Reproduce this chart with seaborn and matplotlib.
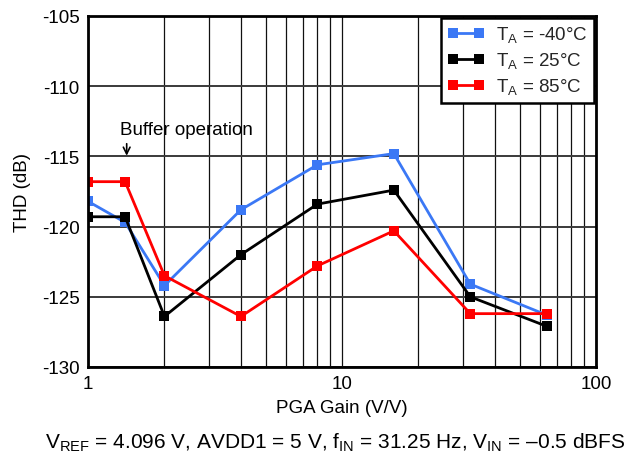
"""
THD vs PGA gain at three temperatures — seaborn recreation.
"""

import numpy as np
import pandas as pd
import matplotlib
matplotlib.use("Agg")
import matplotlib.pyplot as plt
from matplotlib.ticker import LogLocator, FixedLocator, FixedFormatter, NullFormatter
import seaborn as sns


# ─────────────────────────────────────────────
# Data
# ─────────────────────────────────────────────
pga_gain  = [1, 1.4, 2, 4, 8, 16, 32, 64]
thd_m40   = [-118.2, -119.7, -124.2, -118.8, -115.6, -114.8, -124.1, -126.3]
thd_25    = [-119.3, -119.3, -126.4, -122.0, -118.4, -117.4, -125.0, -127.1]
thd_85    = [-116.8, -116.8, -123.5, -126.4, -122.8, -120.3, -126.2, -126.2]

series_labels = [r"T$_\mathregular{A}$ = -40°C",
                 r"T$_\mathregular{A}$ = 25°C",
                 r"T$_\mathregular{A}$ = 85°C"]
series_colors = ["#3B78F5", "#000000", "#FF0000"]

y_ticks = [-130, -125, -120, -115, -110, -105]
x_ticks = [1, 10, 100]


# ─────────────────────────────────────────────
# Long table for seaborn
# ─────────────────────────────────────────────
frames = []
for label, vals in zip(series_labels, [thd_m40, thd_25, thd_85]):
    frames.append(pd.DataFrame({"gain": pga_gain, "thd": vals, "temp": label}))
df = pd.concat(frames, ignore_index=True)


# ─────────────────────────────────────────────
# Plot
# ─────────────────────────────────────────────
sns.set_theme(style="white")
plt.rcParams["font.family"] = ["Liberation Sans", "DejaVu Sans"]
plt.rcParams["mathtext.fontset"] = "custom"
plt.rcParams["mathtext.rm"] = "Liberation Sans"

FS = 13.5

fig = plt.figure(figsize=(6.29, 4.60), dpi=100)
ax = fig.add_axes([88 / 629, 1 - 368 / 460, (596 - 88) / 629, (368 - 17) / 460])

sns.lineplot(
    data=df, x="gain", y="thd", hue="temp",
    palette=dict(zip(series_labels, series_colors)),
    marker="s", markersize=7, markeredgewidth=0,
    linewidth=2, sort=False, ax=ax,
)

ax.set_xscale("log")
ax.set_xlim(1, 100)
ax.set_ylim(-130, -105)

ax.xaxis.set_major_locator(FixedLocator(x_ticks))
ax.xaxis.set_major_formatter(FixedFormatter([str(t) for t in x_ticks]))
ax.xaxis.set_minor_locator(LogLocator(base=10, subs=np.arange(2, 10)))
ax.xaxis.set_minor_formatter(NullFormatter())
ax.set_yticks(y_ticks)
ax.set_yticklabels([str(t) for t in y_ticks])

ax.grid(True, which="major", axis="y", color="#3a3a3a", linewidth=1.4)
ax.grid(True, which="both", axis="x", color="#111111", linewidth=0.9)
ax.set_axisbelow(True)

for s in ax.spines.values():
    s.set_color("black")
    s.set_linewidth(2)

ax.tick_params(axis="both", which="both", length=0, labelsize=FS, colors="black", pad=6)

ax.set_xlabel("PGA Gain (V/V)", fontsize=FS, color="black", labelpad=5)
ax.set_ylabel("THD (dB)", fontsize=FS, color="black", labelpad=8)

# Buffer operation note
ax.text(1.335, -113.05, "Buffer operation", fontsize=FS, color="black",
        ha="left", va="center")
ax.annotate("", xy=(1.42, -115.15), xytext=(1.42, -113.9),
            arrowprops=dict(arrowstyle="->", color="black", lw=1.2))

leg = ax.legend(loc="upper right", fontsize=FS, frameon=True, fancybox=False,
                numpoints=2, handlelength=2.0, borderaxespad=0.1,
                labelspacing=0.3, borderpad=0.35, handletextpad=0.6)
leg.get_frame().set_edgecolor("black")
leg.get_frame().set_linewidth(1.8)
leg.get_frame().set_alpha(1)

fig.text(335 / 629, 1 - 443 / 460,
         r"V$_\mathregular{REF}$ = 4.096 V, AVDD1 = 5 V, f$_\mathregular{IN}$ = 31.25 Hz, "
         r"V$_\mathregular{IN}$ = –0.5 dBFS",
         ha="center", va="center", fontsize=15, color="black")

plt.savefig("out.png", dpi=100)
plt.close()
